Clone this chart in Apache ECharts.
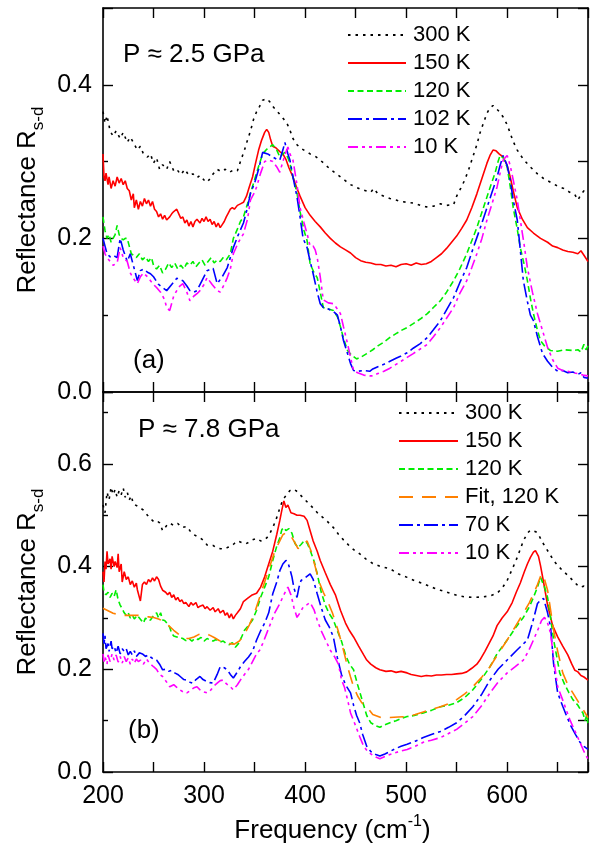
<!DOCTYPE html>
<html><head><meta charset="utf-8">
<script src="https://cdn.jsdelivr.net/npm/echarts@6/dist/echarts.min.js"></script>
<style>html,body{margin:0;padding:0;background:#fff}#c{width:593px;height:845px}</style>
</head><body><div id="c"></div>
<script>
// ---------- Panel (a): P ≈ 2.5 GPa  [frequency cm^-1, reflectance] ----------
const a300 = [[200,0.365],[202,0.35],[204,0.36],[207,0.34],[210,0.333],[213,0.34],[217,0.33],[220,0.338],[224,0.325],[227,0.332],[230,0.325],[234,0.315],[237,0.32],[240,0.31],[244,0.306],[247,0.31],[250,0.298],[253,0.305],[256,0.29],[259,0.296],[263,0.29],[266,0.3],[270,0.288],[273,0.29],[277,0.283],[281,0.29],[285,0.282],[289,0.284],[293,0.279],[296,0.282],[300,0.276],[303,0.273],[306,0.278],[309,0.284],[313,0.29],[317,0.287],[321,0.29],[325,0.286],[329,0.289],[333,0.288],[336,0.3],[340,0.315],[343,0.328],[346,0.34],[349,0.355],[352,0.365],[355,0.372],[358,0.38],[362,0.382],[365,0.378],[368,0.372],[372,0.366],[376,0.36],[379,0.355],[382,0.35],[385,0.341],[388,0.33],[392,0.322],[395,0.318],[400,0.314],[405,0.31],[410,0.307],[415,0.302],[420,0.296],[425,0.29],[430,0.285],[435,0.28],[440,0.275],[445,0.27],[450,0.267],[455,0.264],[460,0.262],[465,0.26],[468,0.265],[472,0.258],[478,0.255],[484,0.252],[490,0.25],[495,0.248],[501,0.247],[507,0.246],[514,0.243],[520,0.241],[527,0.242],[534,0.245],[540,0.243],[547,0.244],[550,0.255],[554,0.265],[558,0.276],[562,0.29],[566,0.306],[570,0.322],[573,0.337],[577,0.352],[580,0.363],[583,0.37],[586,0.373],[590,0.368],[593,0.364],[596,0.358],[600,0.348],[603,0.337],[606,0.326],[610,0.315],[616,0.303],[623,0.293],[630,0.284],[636,0.278],[643,0.273],[650,0.268],[656,0.265],[662,0.26],[667,0.257],[670,0.25],[673,0.257],[676,0.262],[680,0.26]];
const a150 = [[200,0.31],[201,0.28],[202,0.275],[203,0.285],[205,0.27],[206,0.28],[208,0.265],[210,0.275],[212,0.268],[214,0.28],[216,0.272],[218,0.278],[220,0.27],[222,0.275],[224,0.265],[226,0.262],[228,0.25],[230,0.258],[231,0.24],[233,0.25],[235,0.238],[237,0.248],[239,0.242],[241,0.252],[243,0.245],[245,0.25],[247,0.242],[249,0.248],[251,0.238],[253,0.235],[255,0.228],[257,0.232],[259,0.225],[261,0.23],[263,0.224],[266,0.228],[268,0.232],[270,0.235],[273,0.238],[275,0.232],[277,0.226],[279,0.228],[281,0.22],[283,0.224],[285,0.216],[287,0.222],[289,0.215],[291,0.222],[293,0.225],[296,0.22],[298,0.226],[300,0.222],[302,0.228],[304,0.222],[306,0.225],[308,0.218],[310,0.222],[312,0.215],[314,0.22],[316,0.214],[318,0.218],[320,0.222],[322,0.228],[324,0.233],[326,0.238],[328,0.24],[330,0.238],[333,0.243],[336,0.245],[339,0.247],[342,0.255],[345,0.268],[348,0.28],[351,0.298],[354,0.315],[357,0.328],[360,0.338],[362,0.342],[364,0.338],[366,0.328],[368,0.32],[371,0.318],[375,0.313],[378,0.31],[381,0.303],[384,0.292],[388,0.28],[392,0.265],[395,0.255],[400,0.24],[405,0.23],[410,0.222],[415,0.215],[420,0.207],[425,0.2],[430,0.194],[435,0.189],[440,0.185],[445,0.181],[450,0.175],[455,0.171],[460,0.169],[465,0.168],[470,0.166],[475,0.166],[480,0.164],[485,0.165],[490,0.163],[495,0.166],[500,0.167],[505,0.165],[510,0.168],[515,0.166],[520,0.167],[525,0.17],[530,0.175],[535,0.18],[540,0.187],[545,0.195],[550,0.203],[555,0.213],[560,0.224],[565,0.24],[570,0.258],[575,0.278],[580,0.298],[583,0.308],[586,0.315],[589,0.314],[592,0.31],[596,0.306],[600,0.295],[603,0.28],[606,0.262],[610,0.24],[615,0.225],[620,0.214],[626,0.207],[633,0.2],[640,0.195],[645,0.19],[650,0.188],[655,0.185],[660,0.183],[665,0.182],[670,0.18],[673,0.184],[676,0.178],[680,0.17]];
const a120 = [[200,0.228],[202,0.21],[204,0.2],[206,0.205],[208,0.195],[210,0.2],[212,0.205],[214,0.217],[216,0.205],[218,0.2],[220,0.198],[222,0.2],[224,0.2],[226,0.19],[228,0.18],[230,0.178],[233,0.175],[236,0.18],[239,0.172],[242,0.176],[245,0.17],[248,0.175],[250,0.165],[253,0.16],[256,0.165],[259,0.155],[262,0.16],[265,0.168],[268,0.162],[271,0.168],[274,0.16],[277,0.165],[280,0.16],[283,0.168],[286,0.165],[289,0.17],[292,0.163],[295,0.168],[298,0.172],[301,0.165],[304,0.17],[307,0.175],[310,0.168],[313,0.172],[316,0.17],[319,0.175],[322,0.172],[326,0.18],[329,0.2],[333,0.212],[336,0.222],[339,0.228],[343,0.245],[346,0.259],[349,0.272],[352,0.285],[355,0.298],[358,0.31],[362,0.316],[365,0.319],[368,0.322],[372,0.315],[375,0.306],[378,0.31],[380,0.312],[383,0.305],[385,0.298],[388,0.28],[392,0.259],[395,0.235],[399,0.21],[402,0.197],[405,0.167],[409,0.155],[412,0.149],[415,0.13],[418,0.11],[423,0.108],[428,0.106],[432,0.098],[435,0.085],[438,0.07],[442,0.054],[446,0.048],[451,0.043],[456,0.046],[461,0.05],[467,0.055],[472,0.06],[478,0.065],[484,0.071],[490,0.076],[495,0.08],[501,0.084],[507,0.089],[514,0.095],[521,0.102],[527,0.11],[534,0.119],[540,0.13],[547,0.145],[553,0.16],[560,0.18],[565,0.197],[570,0.214],[575,0.234],[580,0.254],[584,0.27],[588,0.285],[591,0.3],[593,0.308],[596,0.305],[600,0.293],[603,0.268],[606,0.24],[610,0.212],[613,0.188],[617,0.165],[620,0.145],[623,0.122],[626,0.102],[630,0.08],[633,0.067],[637,0.06],[643,0.054],[650,0.053],[657,0.055],[665,0.054],[670,0.055],[673,0.052],[676,0.062],[678,0.055],[680,0.06]];
const a102 = [[200,0.2],[202,0.19],[204,0.18],[207,0.176],[210,0.178],[214,0.175],[217,0.2],[220,0.185],[224,0.17],[227,0.18],[230,0.165],[234,0.145],[237,0.158],[240,0.16],[244,0.156],[247,0.154],[250,0.15],[255,0.14],[259,0.136],[263,0.132],[268,0.14],[273,0.148],[279,0.145],[283,0.138],[286,0.132],[290,0.13],[293,0.132],[298,0.145],[303,0.158],[309,0.161],[313,0.141],[318,0.15],[323,0.162],[326,0.175],[329,0.188],[334,0.205],[339,0.22],[343,0.24],[346,0.259],[350,0.272],[354,0.29],[358,0.312],[363,0.31],[368,0.306],[372,0.303],[375,0.302],[378,0.315],[380,0.325],[383,0.31],[385,0.302],[388,0.28],[392,0.254],[395,0.228],[398,0.2],[402,0.188],[405,0.17],[408,0.154],[412,0.13],[415,0.115],[418,0.11],[423,0.108],[428,0.105],[432,0.1],[435,0.085],[438,0.067],[442,0.05],[445,0.037],[448,0.028],[452,0.027],[458,0.028],[464,0.027],[467,0.03],[472,0.033],[478,0.036],[484,0.04],[490,0.044],[495,0.047],[501,0.051],[507,0.057],[514,0.063],[521,0.071],[527,0.081],[534,0.093],[540,0.107],[547,0.123],[553,0.142],[560,0.162],[565,0.182],[570,0.201],[575,0.22],[580,0.24],[585,0.26],[590,0.28],[593,0.295],[596,0.308],[600,0.295],[603,0.276],[606,0.25],[610,0.224],[613,0.185],[616,0.145],[620,0.118],[623,0.1],[626,0.093],[630,0.072],[635,0.05],[640,0.04],[645,0.032],[650,0.027],[655,0.028],[660,0.025],[665,0.026],[670,0.023],[673,0.025],[676,0.019],[680,0.018]];
const a10 = [[200,0.19],[202,0.18],[204,0.175],[207,0.17],[210,0.165],[214,0.168],[217,0.188],[220,0.175],[224,0.17],[227,0.155],[230,0.148],[234,0.141],[237,0.15],[240,0.155],[244,0.15],[247,0.145],[250,0.14],[253,0.136],[257,0.13],[261,0.12],[263,0.11],[266,0.106],[270,0.125],[273,0.132],[276,0.138],[279,0.141],[283,0.13],[286,0.119],[290,0.125],[293,0.128],[296,0.132],[300,0.14],[303,0.149],[308,0.14],[313,0.132],[316,0.13],[320,0.14],[323,0.149],[326,0.16],[329,0.18],[334,0.195],[339,0.206],[343,0.225],[346,0.25],[350,0.26],[352,0.267],[356,0.285],[360,0.3],[364,0.302],[368,0.3],[372,0.293],[375,0.286],[378,0.3],[381,0.312],[383,0.319],[385,0.31],[388,0.302],[392,0.27],[395,0.24],[399,0.22],[402,0.206],[405,0.19],[408,0.19],[410,0.185],[412,0.175],[415,0.15],[418,0.12],[423,0.116],[428,0.115],[432,0.108],[435,0.102],[438,0.085],[442,0.063],[445,0.045],[448,0.028],[452,0.025],[458,0.022],[464,0.021],[467,0.021],[472,0.024],[478,0.027],[484,0.031],[490,0.036],[495,0.04],[501,0.045],[507,0.05],[514,0.056],[521,0.062],[527,0.072],[534,0.084],[540,0.096],[547,0.11],[553,0.128],[560,0.145],[565,0.162],[570,0.18],[575,0.2],[580,0.224],[585,0.245],[590,0.267],[593,0.285],[596,0.302],[600,0.308],[603,0.295],[606,0.276],[610,0.25],[613,0.224],[617,0.19],[620,0.162],[625,0.13],[630,0.102],[635,0.08],[640,0.058],[645,0.042],[650,0.031],[655,0.028],[660,0.027],[665,0.025],[670,0.024],[675,0.022],[680,0.021]];

// ---------- Panel (b): P ≈ 7.8 GPa ----------
const b300 = [[200,0.52],[202,0.505],[204,0.545],[206,0.53],[208,0.555],[210,0.54],[212,0.55],[214,0.535],[216,0.548],[218,0.54],[220,0.553],[222,0.535],[224,0.545],[226,0.53],[228,0.538],[230,0.522],[234,0.518],[237,0.514],[240,0.51],[244,0.5],[247,0.493],[250,0.488],[253,0.49],[256,0.485],[259,0.47],[263,0.48],[266,0.485],[270,0.48],[274,0.484],[278,0.476],[283,0.478],[286,0.47],[289,0.463],[292,0.46],[296,0.456],[300,0.45],[303,0.442],[306,0.44],[309,0.441],[313,0.436],[316,0.435],[320,0.434],[323,0.437],[327,0.44],[330,0.445],[333,0.45],[337,0.447],[341,0.444],[344,0.447],[348,0.452],[352,0.455],[356,0.45],[360,0.452],[364,0.46],[368,0.476],[371,0.49],[375,0.514],[378,0.53],[382,0.541],[385,0.548],[388,0.551],[391,0.548],[395,0.54],[398,0.534],[403,0.524],[408,0.514],[413,0.503],[418,0.495],[422,0.488],[428,0.476],[433,0.463],[438,0.452],[445,0.438],[450,0.43],[454,0.425],[460,0.415],[467,0.406],[475,0.4],[484,0.396],[492,0.386],[501,0.379],[509,0.372],[517,0.367],[525,0.36],[534,0.354],[542,0.349],[550,0.344],[558,0.341],[566,0.34],[576,0.341],[583,0.343],[590,0.348],[595,0.358],[600,0.373],[605,0.395],[610,0.418],[616,0.45],[620,0.465],[623,0.471],[627,0.469],[630,0.466],[636,0.444],[641,0.428],[646,0.412],[650,0.402],[655,0.392],[660,0.383],[665,0.373],[669,0.365],[672,0.36],[676,0.362],[680,0.358]];
const b150 = [[200,0.39],[201,0.37],[202,0.41],[203,0.395],[204,0.43],[205,0.405],[207,0.415],[208,0.395],[209,0.42],[211,0.4],[212,0.41],[214,0.398],[215,0.425],[216,0.39],[218,0.405],[219,0.37],[221,0.39],[223,0.375],[225,0.38],[227,0.365],[229,0.372],[231,0.36],[233,0.368],[234,0.355],[236,0.34],[237,0.333],[239,0.365],[241,0.37],[243,0.365],[245,0.375],[247,0.37],[249,0.378],[251,0.372],[253,0.38],[255,0.375],[257,0.362],[259,0.354],[262,0.35],[264,0.345],[266,0.35],[268,0.34],[270,0.345],[272,0.335],[274,0.34],[276,0.332],[278,0.335],[280,0.328],[282,0.33],[285,0.322],[287,0.33],[289,0.325],[292,0.33],[294,0.32],[296,0.323],[299,0.325],[301,0.318],[303,0.322],[306,0.315],[309,0.32],[311,0.312],[314,0.318],[316,0.31],[319,0.315],[321,0.305],[323,0.31],[325,0.3],[327,0.308],[329,0.298],[331,0.305],[333,0.31],[336,0.318],[339,0.332],[343,0.338],[347,0.344],[352,0.348],[356,0.36],[360,0.38],[364,0.405],[368,0.43],[372,0.463],[375,0.49],[377,0.51],[379,0.528],[381,0.515],[383,0.52],[386,0.505],[389,0.503],[392,0.5],[395,0.5],[399,0.498],[402,0.49],[405,0.47],[408,0.45],[412,0.43],[415,0.412],[420,0.388],[425,0.365],[430,0.345],[435,0.315],[440,0.29],[444,0.275],[448,0.263],[453,0.245],[458,0.228],[461,0.218],[465,0.21],[470,0.203],[474,0.199],[480,0.196],[485,0.197],[490,0.194],[495,0.196],[501,0.193],[505,0.19],[510,0.188],[515,0.186],[520,0.188],[525,0.187],[530,0.189],[535,0.189],[540,0.19],[545,0.19],[550,0.191],[555,0.192],[560,0.195],[565,0.202],[570,0.21],[573,0.218],[578,0.235],[582,0.25],[586,0.265],[590,0.285],[595,0.3],[600,0.312],[605,0.33],[609,0.35],[613,0.368],[617,0.39],[620,0.405],[623,0.418],[626,0.428],[628,0.431],[631,0.42],[633,0.402],[636,0.37],[640,0.325],[645,0.285],[650,0.263],[655,0.245],[660,0.228],[664,0.21],[667,0.198],[670,0.195],[673,0.188],[676,0.185],[680,0.179]];
const b120 = [[200,0.365],[201,0.35],[203,0.345],[205,0.35],[207,0.34],[209,0.348],[211,0.342],[213,0.355],[215,0.335],[217,0.325],[219,0.318],[221,0.31],[223,0.305],[225,0.31],[227,0.3],[229,0.305],[231,0.298],[234,0.305],[236,0.3],[238,0.295],[240,0.29],[242,0.3],[244,0.295],[247,0.296],[250,0.305],[253,0.31],[255,0.3],[257,0.31],[259,0.296],[261,0.295],[264,0.288],[266,0.282],[268,0.27],[270,0.265],[273,0.263],[276,0.262],[279,0.26],[282,0.256],[285,0.26],[288,0.255],[291,0.26],[294,0.258],[297,0.262],[300,0.255],[303,0.26],[306,0.257],[309,0.255],[312,0.258],[316,0.253],[319,0.255],[322,0.25],[325,0.248],[328,0.252],[331,0.243],[334,0.25],[337,0.262],[340,0.276],[344,0.285],[348,0.296],[352,0.315],[356,0.34],[360,0.36],[364,0.38],[368,0.412],[372,0.44],[375,0.456],[377,0.472],[379,0.476],[381,0.47],[384,0.474],[387,0.465],[390,0.445],[393,0.437],[396,0.443],[399,0.45],[402,0.446],[405,0.432],[409,0.41],[412,0.386],[416,0.35],[420,0.325],[424,0.308],[428,0.296],[432,0.275],[436,0.255],[440,0.228],[444,0.21],[448,0.199],[452,0.17],[455,0.15],[458,0.13],[461,0.11],[465,0.096],[470,0.09],[474,0.087],[479,0.092],[484,0.096],[490,0.1],[495,0.104],[501,0.108],[508,0.11],[517,0.115],[525,0.12],[534,0.127],[542,0.13],[550,0.135],[558,0.145],[566,0.16],[575,0.182],[583,0.205],[590,0.23],[600,0.257],[608,0.28],[616,0.301],[622,0.322],[626,0.34],[630,0.36],[633,0.379],[637,0.36],[640,0.34],[643,0.3],[646,0.257],[650,0.215],[652,0.193],[657,0.17],[661,0.155],[665,0.141],[670,0.13],[673,0.12],[675,0.115],[677,0.1],[679,0.112],[680,0.09]];
const bFit = [[200,0.319],[205,0.314],[210,0.309],[215,0.307],[220,0.305],[225,0.305],[230,0.305],[235,0.305],[240,0.303],[245,0.302],[250,0.301],[255,0.298],[260,0.293],[265,0.285],[270,0.276],[275,0.268],[280,0.26],[285,0.26],[290,0.263],[295,0.268],[300,0.27],[305,0.267],[310,0.262],[315,0.256],[320,0.252],[325,0.25],[330,0.249],[335,0.255],[340,0.268],[345,0.287],[350,0.31],[355,0.34],[360,0.37],[365,0.4],[370,0.43],[375,0.45],[378,0.462],[381,0.466],[385,0.463],[390,0.446],[393,0.435],[397,0.442],[402,0.45],[406,0.43],[410,0.4],[414,0.37],[418,0.35],[422,0.334],[427,0.31],[432,0.28],[437,0.245],[442,0.205],[445,0.185],[448,0.166],[452,0.148],[456,0.135],[461,0.127],[467,0.112],[475,0.106],[484,0.106],[492,0.107],[501,0.108],[509,0.112],[517,0.117],[525,0.122],[534,0.127],[542,0.133],[550,0.141],[558,0.152],[566,0.166],[575,0.185],[583,0.205],[591,0.23],[600,0.257],[608,0.283],[616,0.309],[622,0.33],[626,0.347],[630,0.365],[634,0.386],[637,0.375],[640,0.354],[643,0.315],[646,0.276],[650,0.235],[655,0.193],[660,0.17],[665,0.154],[670,0.138],[675,0.122],[680,0.106]];
const b70 = [[200,0.27],[201,0.25],[202,0.265],[203,0.24],[205,0.25],[206,0.235],[208,0.255],[209,0.24],[211,0.245],[213,0.232],[215,0.245],[217,0.23],[219,0.24],[221,0.235],[223,0.24],[225,0.228],[227,0.235],[229,0.228],[231,0.236],[233,0.225],[236,0.232],[239,0.23],[242,0.225],[245,0.228],[247,0.224],[250,0.22],[253,0.218],[256,0.21],[259,0.199],[262,0.2],[265,0.196],[268,0.198],[271,0.193],[274,0.19],[277,0.185],[280,0.18],[283,0.179],[286,0.175],[289,0.173],[292,0.18],[296,0.186],[299,0.18],[303,0.176],[306,0.174],[309,0.173],[313,0.19],[316,0.205],[320,0.203],[323,0.199],[326,0.19],[329,0.183],[333,0.195],[336,0.205],[340,0.215],[344,0.224],[348,0.235],[352,0.257],[356,0.275],[360,0.29],[364,0.31],[368,0.347],[372,0.37],[375,0.392],[378,0.405],[381,0.412],[383,0.408],[385,0.395],[387,0.38],[389,0.358],[392,0.34],[394,0.36],[396,0.373],[400,0.378],[405,0.386],[408,0.375],[412,0.347],[416,0.32],[420,0.296],[424,0.282],[428,0.263],[432,0.222],[436,0.19],[440,0.17],[445,0.154],[448,0.13],[451,0.11],[454,0.096],[457,0.073],[461,0.05],[465,0.04],[470,0.034],[474,0.031],[479,0.035],[484,0.04],[490,0.046],[495,0.05],[501,0.054],[509,0.06],[517,0.067],[525,0.073],[534,0.079],[542,0.087],[550,0.096],[558,0.11],[566,0.127],[575,0.152],[583,0.179],[591,0.2],[600,0.218],[610,0.238],[620,0.257],[625,0.29],[630,0.328],[633,0.335],[636,0.338],[640,0.31],[643,0.282],[646,0.21],[650,0.154],[655,0.128],[659,0.108],[663,0.09],[668,0.072],[672,0.058],[676,0.05],[680,0.044]];
const b10 = [[200,0.23],[201,0.215],[202,0.225],[204,0.21],[205,0.228],[207,0.215],[209,0.23],[211,0.218],[213,0.228],[215,0.214],[217,0.225],[219,0.212],[221,0.225],[223,0.215],[225,0.222],[227,0.21],[229,0.22],[231,0.212],[233,0.22],[235,0.215],[237,0.218],[240,0.21],[243,0.22],[246,0.212],[250,0.205],[253,0.2],[256,0.19],[259,0.186],[263,0.175],[266,0.166],[270,0.17],[273,0.165],[276,0.16],[280,0.155],[283,0.154],[286,0.158],[290,0.164],[293,0.166],[296,0.16],[300,0.156],[303,0.154],[306,0.158],[310,0.168],[313,0.173],[316,0.178],[319,0.179],[322,0.172],[326,0.166],[329,0.16],[333,0.17],[337,0.182],[340,0.19],[344,0.2],[348,0.215],[352,0.23],[355,0.237],[358,0.25],[362,0.27],[366,0.29],[370,0.31],[375,0.328],[379,0.345],[383,0.36],[386,0.345],[389,0.32],[392,0.301],[395,0.31],[398,0.321],[402,0.326],[405,0.33],[409,0.315],[412,0.296],[416,0.275],[420,0.258],[425,0.237],[429,0.225],[433,0.21],[436,0.18],[439,0.165],[442,0.141],[445,0.115],[450,0.09],[454,0.069],[458,0.05],[462,0.04],[466,0.034],[470,0.029],[474,0.026],[479,0.03],[484,0.034],[490,0.038],[495,0.041],[501,0.044],[509,0.05],[517,0.058],[525,0.062],[534,0.067],[542,0.075],[550,0.083],[558,0.095],[566,0.108],[575,0.13],[583,0.154],[591,0.175],[600,0.193],[608,0.205],[616,0.218],[621,0.235],[626,0.257],[631,0.28],[634,0.295],[637,0.301],[640,0.29],[643,0.27],[646,0.22],[650,0.166],[655,0.14],[659,0.118],[662,0.102],[667,0.08],[672,0.058],[676,0.04],[680,0.025]];

const legendA = ['300 K','150 K','120 K','102 K','10 K'];
const legendB = ['300 K','150 K','120 K','Fit, 120 K','70 K','10 K'];
const xTicks = [200, 300, 400, 500, 600];

const FONT = '"Liberation Sans", Arial, Helvetica, sans-serif';
const K = '#000';
const STY = {
  '300 K': {c:'#000000', d:[2.5,5]},
  '150 K': {c:'#ff0000', d:'solid'},
  '120 K': {c:'#00ee00', d:[6,3.5]},
  'Fit, 120 K': {c:'#ff8000', d:[14,9]},
  '102 K': {c:'#0000ff', d:[14,4,3,4]},
  '70 K': {c:'#0000ff', d:[14,4,3,4]},
  '10 K': {c:'#ff00ff', d:[10,4,3,4,3,4]}
};
function mk(name, data, g){
  const s = STY[name];
  return {name, type:'line', data, xAxisIndex:g*2, yAxisIndex:g*2, symbol:'none', showSymbol:false,
    silent:true, animation:false, clip:true,
    lineStyle:{color:s.c, width:1.6, type:s.d}, itemStyle:{color:s.c}};
}
const axLine = {show:true, onZero:false, lineStyle:{color:K, width:1.6}};
function xAx(g, pos, labels){
  const a = {gridIndex:g, type:'value', position:pos, min:200, max:680, interval:50,
    axisLine:axLine, axisTick:{show:true, inside:true, length:10, lineStyle:{color:K, width:1.4}},
    splitLine:{show:false},
    axisLabel:{show:labels, color:K, fontSize:25, fontFamily:FONT, margin:12,
      formatter: v => xTicks.includes(v) ? String(v) : ''}};
  if (labels){
    a.name = '{a|Frequency (cm}{b|-1}{a|)}';
    a.nameLocation = 'middle'; a.nameGap = 42;
    a.nameTextStyle = {padding:[0,26,0,0], rich:{
      a:{fontSize:26, fontFamily:FONT, color:K, lineHeight:30, verticalAlign:'bottom'},
      b:{fontSize:16, fontFamily:FONT, color:K, lineHeight:14, verticalAlign:'top'}}};
  }
  return a;
}
function yL(g, max){
  return {gridIndex:g, type:'value', position:'left', min:0, max, interval:0.2,
    axisLine:axLine, axisTick:{show:true, inside:true, length:10, lineStyle:{color:K, width:1.4}},
    minorTick:{show:true, splitNumber:2, length:5, lineStyle:{color:K, width:1.4}},
    splitLine:{show:false}, minorSplitLine:{show:false},
    axisLabel:{color:K, fontSize:25, fontFamily:FONT, margin:11, showMaxLabel:false,
      formatter: v => { const k = Math.round(v/0.2); return Math.abs(v-k*0.2) < 1e-6 ? v.toFixed(1) : ''; }},
    name:'{a|Reflectance R}{b|s-d}', nameLocation:'middle', nameRotate:90, nameGap:48,
    nameTextStyle:{rich:{
      a:{fontSize:26, fontFamily:FONT, color:K, lineHeight:30, verticalAlign:'top'},
      b:{fontSize:17, fontFamily:FONT, color:K, lineHeight:32, verticalAlign:'bottom'}}}};
}
function yR(g, max){
  return {gridIndex:g, type:'value', position:'right', min:0, max, interval:0.1,
    axisLine:axLine, axisTick:{show:true, inside:true, length:10, lineStyle:{color:K, width:1.4}},
    splitLine:{show:false}, axisLabel:{show:false}};
}
const legStyle = {orient:'vertical', padding:0, itemHeight:14, itemGap:6, selectedMode:false,
  itemStyle:{opacity:0, borderWidth:0},
  textStyle:{fontSize:22, fontFamily:FONT, color:K, padding:[0,0,0,2]}};

const series = [
  mk('300 K', a300, 0), mk('150 K', a150, 0), mk('120 K', a120, 0), mk('102 K', a102, 0), mk('10 K', a10, 0),
  mk('300 K', b300, 1), mk('150 K', b150, 1), mk('120 K', b120, 1), mk('Fit, 120 K', bFit, 1), mk('70 K', b70, 1), mk('10 K', b10, 1)
];

const chart = echarts.init(document.getElementById('c'), null, {renderer:'canvas'});
chart.setOption({
  animation:false,
  backgroundColor:'#fff',
  grid:[{left:103, top:8, width:485, height:384}, {left:103, top:392, width:485, height:381}],
  xAxis:[xAx(0,'bottom',false), xAx(0,'top',false), xAx(1,'bottom',true), xAx(1,'top',false)],
  yAxis:[yL(0,0.5), yR(0,0.5), yL(1,0.74), yR(1,0.74)],
  legend:[
    Object.assign({data:legendA, left:347, top:24, itemWidth:58}, legStyle),
    Object.assign({data:legendB, left:398, top:402, itemWidth:59}, legStyle)
  ],
  graphic:[
    {type:'text', left:123, top:42, style:{text:'P ≈ 2.5 GPa', font:'26px ' + FONT, fill:K}},
    {type:'text', left:133, top:348, style:{text:'(a)', font:'26px ' + FONT, fill:K}},
    {type:'text', left:138, top:417, style:{text:'P ≈ 7.8 GPa', font:'26px ' + FONT, fill:K}},
    {type:'text', left:128, top:718, style:{text:'(b)', font:'26px ' + FONT, fill:K}}
  ],
  series
});
</script>
</body></html>
